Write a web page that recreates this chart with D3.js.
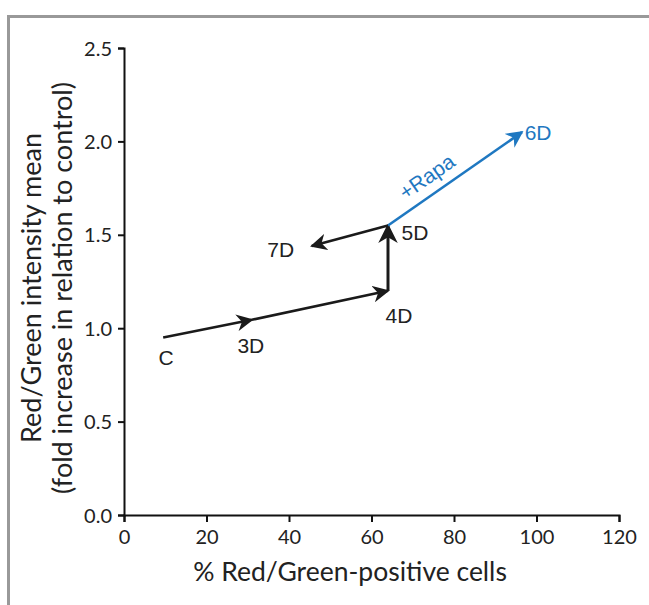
<!DOCTYPE html>
<html><head><meta charset="utf-8">
<script src="https://cdn.jsdelivr.net/npm/d3@7"></script>
<style>body{margin:0;background:#fff}svg{display:block}</style>
</head><body>
<svg id="c" width="649" height="605"></svg>
<script>
const pointNames = ["C","3D","4D","5D","6D","7D"];
const xValues = [9.5, 31, 64, 64, 96.5, 45.5];
const yValues = [0.95, 1.045, 1.20, 1.55, 2.05, 1.44];
const segments = [["C","3D"],["3D","4D"],["4D","5D"],["5D","6D"],["5D","7D"]];
const xTicks = [0,20,40,60,80,100,120];
const yTicks = [0,0.5,1.0,1.5,2.0,2.5];

const svg = d3.select("#c");
svg.append("line").attr("x1",8).attr("x2",649).attr("y1",16.5).attr("y2",16.5).attr("stroke","#999").attr("stroke-width",3);
svg.append("line").attr("x1",8.5).attr("x2",8.5).attr("y1",15).attr("y2",605).attr("stroke","#999").attr("stroke-width",3);

const x = d3.scaleLinear().domain([0,120]).range([124,619]);
const y = d3.scaleLinear().domain([0,2.5]).range([515,48]);
const pts = {};
pointNames.forEach((n,i)=>pts[n]={x:xValues[i],y:yValues[i]});

const tickFont = "Lato,'Open Sans',sans-serif";
const gx = svg.append("g").attr("transform","translate(0,515)")
  .call(d3.axisBottom(x).tickValues(xTicks).tickSize(7).tickPadding(8).tickSizeOuter(7));
const gy = svg.append("g").attr("transform","translate(124,0)")
  .call(d3.axisLeft(y).tickValues(yTicks).tickSize(6).tickPadding(6).tickFormat(d3.format(".1f")).tickSizeOuter(6));
[gx,gy].forEach(g=>{
  g.selectAll("path,line").attr("stroke","#111").attr("stroke-width",2);
  g.selectAll("text").attr("font-family",tickFont).attr("font-size",20).attr("fill","#222");
});
gy.selectAll("text").attr("dy","0.35em");

// axis titles
svg.append("text").attr("x",350).attr("y",581).attr("text-anchor","middle")
  .attr("font-family","Lato,'Open Sans',sans-serif").attr("font-size",26.5).attr("fill","#222")
  .text("% Red/Green-positive cells");
const yt = svg.append("text").attr("transform","translate(0,288) rotate(-90)")
  .attr("text-anchor","middle").attr("font-family","Lato,'Open Sans',sans-serif").attr("font-size",27).attr("fill","#222");
yt.append("tspan").attr("x",0).attr("y",41).text("Red/Green intensity mean");
yt.append("tspan").attr("x",0).attr("y",72).text("(fold increase in relation to control)");

// arrowheads
const defs = svg.append("defs");
[["ah-k","#1a1a1a"],["ah-b","#1f78c1"]].forEach(([id,c])=>{
  defs.append("marker").attr("id",id).attr("viewBox","0 0 10 10").attr("refX",9).attr("refY",5)
    .attr("markerWidth",6.5).attr("markerHeight",6.5).attr("markerUnits","strokeWidth").attr("orient","auto")
    .append("path").attr("d","M0,0 L10,5 L0,10 L3,5 Z").attr("fill",c);
});
segments.forEach(([a,b])=>{
  const blue = b==="6D";
  const vert = a==="4D";
  svg.append("line").attr("x1",x(pts[a].x)).attr("y1",y(pts[a].y))
    .attr("x2",x(pts[b].x)).attr("y2",y(pts[b].y))
    .attr("stroke",blue?"#1f78c1":"#1a1a1a").attr("stroke-width",vert?3:2.6)
    .attr("marker-end",`url(#${blue?"ah-b":"ah-k"})`);
});

// labels
const labelOff = {"C":[3,20],"3D":[-1,26],"4D":[11,25],"5D":[27,7],"6D":[16,1],"7D":[-31,4]};
pointNames.forEach(n=>{
  const o = labelOff[n];
  svg.append("text").attr("x",x(pts[n].x)+o[0]).attr("y",y(pts[n].y)+o[1]).attr("dy","0.35em")
    .attr("text-anchor","middle").attr("font-family","'Liberation Sans',Arial,sans-serif").attr("font-size",21)
    .attr("fill",n==="6D"?"#1f78c1":"#222").text(n);
});
const mx = (x(pts["5D"].x)+x(pts["6D"].x))/2, my = (y(pts["5D"].y)+y(pts["6D"].y))/2;
const ang = Math.atan2(y(pts["6D"].y)-y(pts["5D"].y), x(pts["6D"].x)-x(pts["5D"].x))*180/Math.PI;
svg.append("text").attr("transform",`translate(${mx-24},${my+4}) rotate(${ang})`)
  .attr("text-anchor","middle").attr("font-family","'Liberation Sans',Arial,sans-serif").attr("font-size",21)
  .attr("fill","#1f78c1").text("+Rapa");
</script>
</body></html>
